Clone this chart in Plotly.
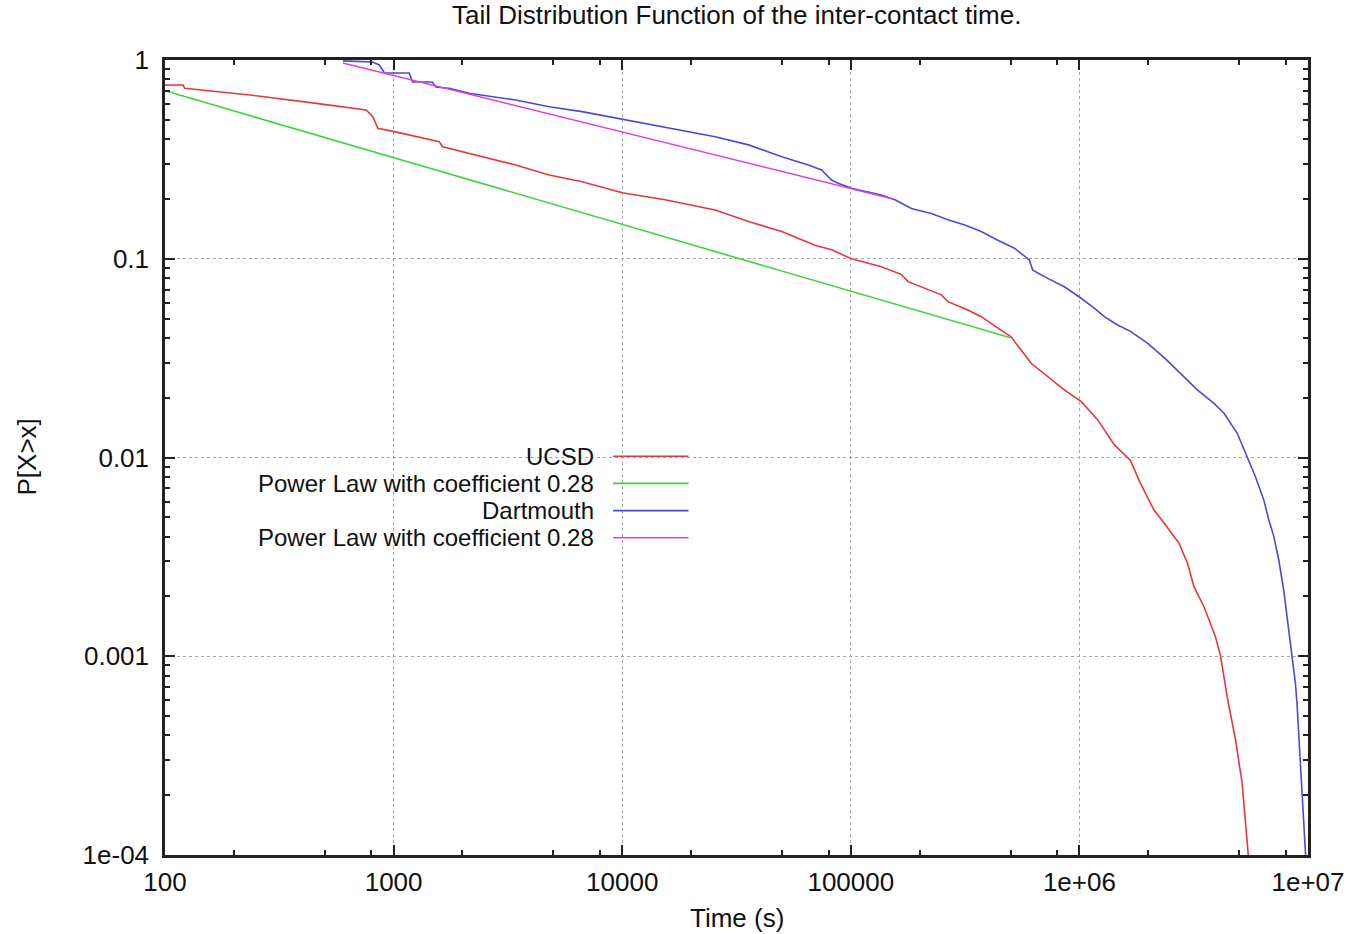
import plotly.graph_objects as go

# ---------------- data ----------------
ucsd_x = [100, 120, 122, 235, 459, 759, 811, 853, 1007, 1585, 1637, 2450,
          3420, 4790, 6680, 10000, 15400, 25500, 35700, 49900, 69700, 82400,
          100700, 136000, 166000, 178000, 210000, 249000, 266000, 325000,
          372000, 440000, 502000, 615000, 727000, 859000, 1.02e6, 1.2e6,
          1.42e6, 1.67e6, 1.85e6, 2.12e6, 2.35e6, 2.73e6, 2.97e6, 3.17e6,
          3.51e6, 3.94e6, 4.14e6, 4.43e6, 4.82e6, 5.15e6, 5.48e6]
ucsd_y = [0.748, 0.748, 0.72, 0.667, 0.605, 0.56, 0.518, 0.453, 0.436,
          0.388, 0.366, 0.326, 0.296, 0.264, 0.244, 0.215, 0.198, 0.176,
          0.154, 0.137, 0.117, 0.111, 0.1, 0.0912, 0.0835, 0.0767, 0.071,
          0.0658, 0.0608, 0.0552, 0.0511, 0.0447, 0.0405, 0.0298, 0.0255,
          0.0219, 0.0191, 0.0155, 0.0116, 0.0097, 0.00741, 0.00544, 0.00467,
          0.0037, 0.00294, 0.00224, 0.00177, 0.00125, 0.00101, 0.000626,
          0.000379, 0.00023, 0.0001]

dart_x = [600, 807, 866, 912, 1170, 1210, 1476, 1530, 1750, 2140, 3420,
          4790, 6670, 10070, 15400, 25500, 35700, 49900, 65200, 74500, 82400,
          88100, 100700, 136000, 156000, 184000, 225000, 266000, 315000,
          372000, 440000, 520000, 604000, 625000, 727000, 859000, 1.0e6,
          1.14e6, 1.29e6, 1.47e6, 1.68e6, 1.99e6, 2.35e6, 2.77e6, 3.28e6,
          3.88e6, 4.29e6, 4.91e6, 5.42e6, 5.89e6, 6.41e6, 6.74e6, 7.09e6,
          7.45e6, 7.83e6, 8.09e6, 8.51e6, 8.81e6, 8.95e6, 9.11e6, 9.26e6,
          9.42e6, 9.58e6, 9.76e6]
dart_y = [0.99, 0.977, 0.944, 0.86, 0.86, 0.775, 0.775, 0.731, 0.72, 0.68,
          0.629, 0.582, 0.55, 0.503, 0.462, 0.411, 0.374, 0.326, 0.296,
          0.28, 0.249, 0.24, 0.226, 0.209, 0.198, 0.179, 0.169, 0.157, 0.148,
          0.137, 0.124, 0.113, 0.0986, 0.0877, 0.0797, 0.0723, 0.0642,
          0.0574, 0.051, 0.0464, 0.043, 0.0375, 0.0318, 0.0265, 0.0219,
          0.0187, 0.0167, 0.0132, 0.0101, 0.008, 0.0061, 0.00485, 0.0040,
          0.00305, 0.00215, 0.00158, 0.00103, 0.00073, 0.00058, 0.00041,
          0.00031, 0.00023, 0.000156, 0.0001]

pl_ucsd_x = [100, 500000]
pl_ucsd_y = [0.70, 0.040]

pl_dart_x = [600, 153000]
pl_dart_y = [0.966, 0.20]

series_names = ["UCSD", "Power Law with coefficient 0.28",
                "Dartmouth", "Power Law with coefficient 0.28"]

x_tickvals = [1e2, 1e3, 1e4, 1e5, 1e6, 1e7]
x_ticktext = ["100", "1000", "10000", "100000", "1e+06", "1e+07"]
y_tickvals = [1, 0.1, 0.01, 0.001, 0.0001]
y_ticktext = ["1", "0.1", "0.01", "0.001", "1e-04"]

x_minor = [m * 10 ** e for e in range(2, 7) for m in (2, 5, 8)]
y_minor = [m * 10.0 ** e for e in range(-4, 0) for m in range(2, 10)]

title_text = "Tail Distribution Function of the inter-contact time."
x_title = "Time (s)"
y_title = "P[X>x]"

# ---------------- styles ----------------
colors = ["#e8363c", "#3fd33f", "#4a4ad8", "#e040e0"]
FONT = "Liberation Sans, Arial, Helvetica, sans-serif"
FRAME = "#222222"
TXT = "#111111"

fig = go.Figure()
for xs, ys, name, c in [(ucsd_x, ucsd_y, series_names[0], colors[0]),
                        (pl_ucsd_x, pl_ucsd_y, series_names[1], colors[1]),
                        (dart_x, dart_y, series_names[2], colors[2]),
                        (pl_dart_x, pl_dart_y, series_names[3], colors[3])]:
    fig.add_trace(go.Scatter(x=xs, y=ys, mode="lines", name=name,
                             line=dict(color=c, width=1.6),
                             showlegend=False))

axis_common = dict(
    type="log", showline=True, linecolor=FRAME, linewidth=2.5,
    mirror="allticks", ticks="inside", ticklen=10, tickwidth=1.5,
    tickcolor=FRAME, showgrid=True, gridcolor="#a8a8a8", griddash="dot",
    gridwidth=1, zeroline=False,
    tickfont=dict(family=FONT, size=26, color=TXT),
)

fig.update_xaxes(range=[2, 7], tickmode="array", tickvals=x_tickvals,
                 ticktext=x_ticktext, ticklabelstandoff=2,
                 minor=dict(tickmode="array", tickvals=x_minor, ticks="inside",
                            ticklen=5, tickwidth=1.5, tickcolor=FRAME,
                            showgrid=False),
                 **axis_common)
fig.update_yaxes(range=[-4, 0], tickmode="array", tickvals=y_tickvals,
                 ticktext=y_ticktext, ticklabelstandoff=8,
                 minor=dict(tickmode="array", tickvals=y_minor, ticks="inside",
                            ticklen=5, tickwidth=1.5, tickcolor=FRAME,
                            showgrid=False),
                 **axis_common)

annotations = [
    dict(text=title_text, x=0.5, y=1, xref="paper", yref="paper",
         xanchor="center", yanchor="bottom", yshift=28, showarrow=False,
         font=dict(family=FONT, size=26, color=TXT)),
    dict(text=x_title, x=0.5, y=0, xref="paper", yref="paper",
         xanchor="center", yanchor="middle", yshift=-63, showarrow=False,
         font=dict(family=FONT, size=26, color=TXT)),
    dict(text=y_title, x=0, y=0.5, xref="paper", yref="paper",
         xanchor="center", yanchor="middle", xshift=-139, textangle=-90,
         showarrow=False, font=dict(family=FONT, size=26, color=TXT)),
]

# manual gnuplot-style key: right-aligned text, sample line on the right
legend_rows_y = [0.5016, 0.4674, 0.4332, 0.399]
shapes = []
for name, c, ry in zip(series_names, colors, legend_rows_y):
    annotations.append(dict(text=name, x=0.3775, y=ry, xref="paper",
                            yref="paper", xanchor="right", yanchor="middle",
                            showarrow=False,
                            font=dict(family=FONT, size=24, color=TXT)))
    shapes.append(dict(type="line", xref="paper", yref="paper",
                       x0=0.392, x1=0.458, y0=ry, y1=ry,
                       line=dict(color=c, width=1.6)))

fig.update_layout(
    width=1357, height=934,
    margin=dict(l=165, r=45, t=60, b=79),
    paper_bgcolor="white", plot_bgcolor="white",
    annotations=annotations, shapes=shapes,
    showlegend=False,
)

fig.write_html("out.html")
